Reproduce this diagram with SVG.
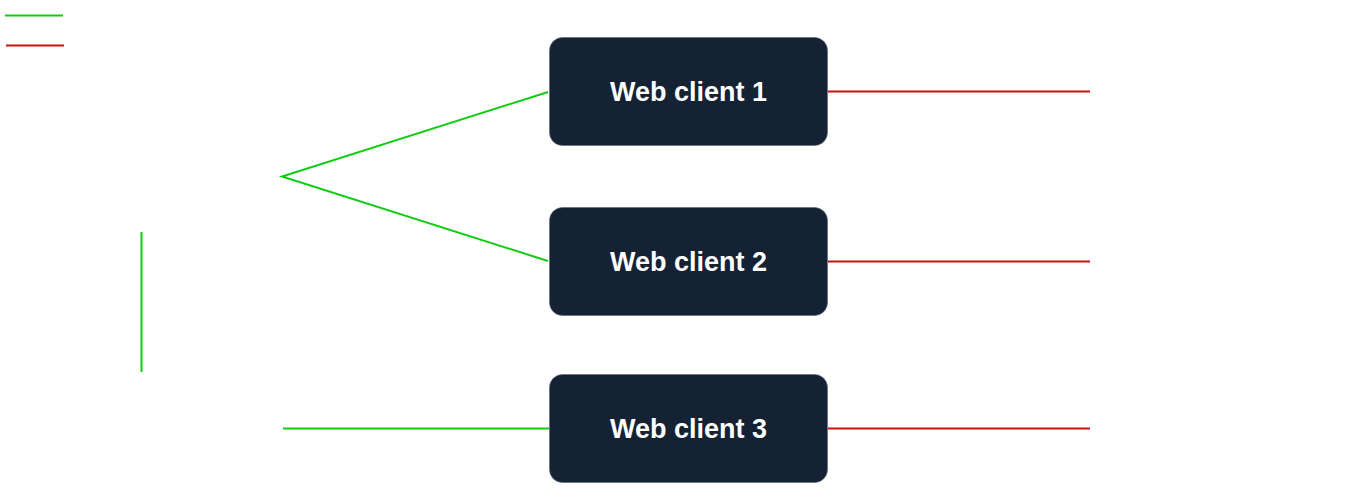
<svg xmlns="http://www.w3.org/2000/svg" width="1371" height="492" viewBox="0 0 1371 492">
<style>
.node rect{fill:#152233;stroke:#5a6573;stroke-width:0.6}
.node text{fill:#ffffff;font-family:"Liberation Sans",Arial,sans-serif;font-weight:bold;font-size:27px;text-anchor:middle;dominant-baseline:central}
.g{stroke:#11cc11;stroke-width:2;fill:none}
.r{stroke:#cc1111;stroke-width:2;fill:none}
</style>
<rect width="1371" height="492" fill="#ffffff"/>
<g id="connectors">
<line class="g" x1="5" y1="15.5" x2="63" y2="15.5"/>
<line class="r" x1="6" y1="45.5" x2="64" y2="45.5"/>
<polyline class="g" points="548,92 282,176.5 548,261"/>
<line class="g" x1="141.5" y1="232" x2="141.5" y2="372"/>
<line class="g" x1="283" y1="428.5" x2="549" y2="428.5"/>
<line class="r" x1="828" y1="91.5" x2="1090" y2="91.5"/>
<line class="r" x1="828" y1="261.5" x2="1090" y2="261.5"/>
<line class="r" x1="828" y1="428.5" x2="1090" y2="428.5"/>
</g>
<g id="node1" class="node"><rect x="549.5" y="37.5" width="278" height="108" rx="13"/><text x="688.5" y="91.5">Web client 1</text></g>
<g id="node2" class="node"><rect x="549.5" y="207.5" width="278" height="108" rx="13"/><text x="688.5" y="261.5">Web client 2</text></g>
<g id="node3" class="node"><rect x="549.5" y="374.5" width="278" height="108" rx="13"/><text x="688.5" y="428.5">Web client 3</text></g>
</svg>
